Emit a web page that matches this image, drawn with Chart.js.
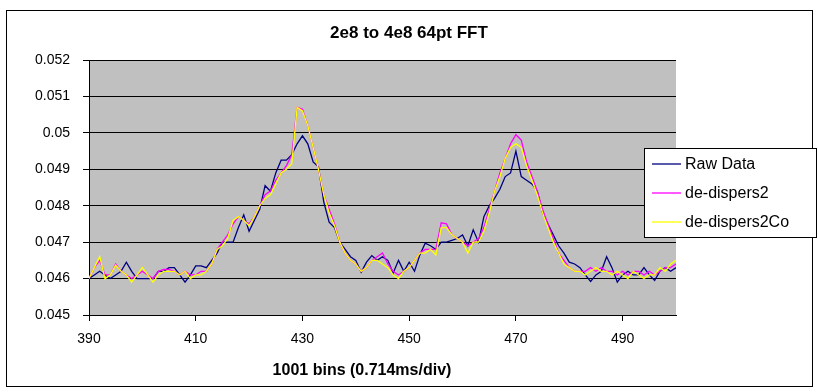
<!DOCTYPE html>
<html>
<head>
<meta charset="utf-8">
<script src="https://cdn.jsdelivr.net/npm/chart.js@4"></script>
<style>
  html, body { margin: 0; padding: 0; background: #fff; }
  #wrap { width: 818px; height: 392px; }
</style>
</head>
<body>
<div id="wrap"><canvas id="myChart" width="818" height="392"></canvas></div>
<script>
// bins 390..500 on the x axis
const bins = [];
for (let b = 390; b <= 500; b++) bins.push(b);

const xTicks = [390, 410, 430, 450, 470, 490];
const yTicks = [0.045, 0.046, 0.047, 0.048, 0.049, 0.05, 0.051, 0.052];

const chartTitle = "2e8 to 4e8 64pt FFT";
const xTitle = "1001 bins (0.714ms/div)";

const rawData = [
  0.0460, 0.0461, 0.0462, 0.0461, 0.0460, 0.0461, 0.0462, 0.04645, 0.0462, 0.0460,
  0.0460, 0.0460, 0.0460, 0.0462, 0.0462, 0.0463, 0.0463, 0.0461, 0.0459, 0.0461,
  0.04635, 0.04635, 0.0463, 0.0465, 0.0467, 0.0470, 0.0470, 0.0470, 0.0474, 0.04775,
  0.0473, 0.0476, 0.0479, 0.04855, 0.0484, 0.0489, 0.04925, 0.04925, 0.0494, 0.0497,
  0.04992, 0.0497, 0.0492, 0.04907, 0.0481, 0.04755, 0.0474, 0.0470, 0.0468, 0.0466,
  0.0465, 0.04617, 0.04645, 0.04663, 0.0465, 0.0466, 0.0465, 0.04615, 0.0465, 0.0462,
  0.04645, 0.0462, 0.04665, 0.04697, 0.0469, 0.0468, 0.0470, 0.0470, 0.04705, 0.0471,
  0.0472, 0.0469, 0.04734, 0.0470, 0.0477, 0.0480, 0.0482, 0.04845, 0.0488, 0.0489,
  0.0495, 0.0488, 0.0487, 0.0486, 0.0484, 0.0478, 0.0475, 0.0472, 0.0469, 0.0467,
  0.04645, 0.0464, 0.0463, 0.0461, 0.04592, 0.0461, 0.0462, 0.0466, 0.0463, 0.0459,
  0.0461, 0.0462, 0.0461, 0.0461, 0.0463, 0.0461, 0.04595, 0.0462, 0.0463, 0.0462,
  0.0463
];

const deDispers2 = [
  0.0460, 0.0463, 0.0465, 0.0461, 0.0461, 0.0464, 0.0462, 0.0461, 0.0460, 0.0461,
  0.0462, 0.0461, 0.0460, 0.0462, 0.04625, 0.04625, 0.0462, 0.0461, 0.0462, 0.0461,
  0.0461, 0.0462, 0.0462, 0.0464, 0.0468, 0.0470, 0.0472, 0.0475, 0.0477, 0.0476,
  0.0475, 0.0477, 0.0480, 0.0483, 0.0484, 0.0487, 0.0489, 0.0491, 0.0494, 0.0507,
  0.05065, 0.0502, 0.0496, 0.0490, 0.0483, 0.0479, 0.0475, 0.0470, 0.0467, 0.0465,
  0.0464, 0.0462, 0.0463, 0.0465, 0.0466, 0.0467, 0.0464, 0.0462, 0.0461, 0.0462,
  0.0463, 0.0465, 0.0467, 0.0468, 0.0468, 0.0468, 0.04753, 0.0475, 0.0472, 0.0471,
  0.0470, 0.0469, 0.0470, 0.0471, 0.0474, 0.0479, 0.0484, 0.0489, 0.0493, 0.0497,
  0.04995, 0.0498, 0.0492, 0.0488, 0.0484, 0.0479, 0.0475, 0.0471, 0.0467, 0.0465,
  0.0463, 0.0462, 0.0462, 0.0462, 0.0463, 0.0462, 0.0463, 0.0462, 0.0462, 0.0461,
  0.0462, 0.0461, 0.0462, 0.0462, 0.0461, 0.0462, 0.0461, 0.0462, 0.0463, 0.0463,
  0.0464
];

const deDispers2Co = [
  0.0460, 0.0463, 0.0466, 0.0460, 0.0461, 0.04637, 0.0462, 0.0461, 0.0459, 0.0461,
  0.0463, 0.0461, 0.0459, 0.0461, 0.0462, 0.0462, 0.0462, 0.0461, 0.0462, 0.0460,
  0.0461, 0.0461, 0.0462, 0.0464, 0.0468, 0.0469, 0.0471, 0.0476, 0.0477, 0.0476,
  0.04745, 0.0477, 0.0480, 0.0482, 0.0483, 0.0486, 0.0489, 0.0490, 0.04915, 0.0507,
  0.0506, 0.0502, 0.0496, 0.0490, 0.0483, 0.0478, 0.04745, 0.0470, 0.0467, 0.0465,
  0.0464, 0.0462, 0.0463, 0.0465, 0.0465, 0.0464, 0.0463, 0.0461, 0.0460, 0.0462,
  0.0463, 0.0465, 0.0467, 0.0467, 0.0468, 0.04665, 0.0474, 0.0474, 0.0472, 0.0471,
  0.0470, 0.0467, 0.0470, 0.0470, 0.0473, 0.0478, 0.0484, 0.0488, 0.0493, 0.0496,
  0.0497, 0.0496, 0.0491, 0.0487, 0.0483, 0.0478, 0.0474, 0.0470, 0.0467, 0.0464,
  0.0463, 0.0462, 0.0462, 0.0461, 0.0462, 0.0463, 0.0462, 0.0462, 0.0461, 0.0462,
  0.0461, 0.0460, 0.0462, 0.0461, 0.0460, 0.0461, 0.0461, 0.0463, 0.0462, 0.0464,
  0.0465
];

const seriesNames = ["Raw Data", "de-dispers2", "de-dispers2Co"];
const seriesColors = ["#000080", "#FF00FF", "#FFFF00"];

const FONT = "'Liberation Sans', Arial, sans-serif";

// gray plot area, outer frame, and the two titles (placed like Excel does)
const frame = {
  id: "frame",
  beforeDraw(chart) {
    const { ctx, chartArea: a } = chart;
    ctx.save();
    ctx.fillStyle = "#fff";
    ctx.fillRect(0, 0, chart.width, chart.height);
    ctx.fillStyle = "#C0C0C0";
    ctx.fillRect(a.left, a.top, a.right - a.left, a.bottom - a.top);
    ctx.restore();
  },
  afterDraw(chart) {
    const ctx = chart.ctx;
    ctx.save();
    ctx.strokeStyle = "#000";
    ctx.lineWidth = 1;
    ctx.strokeRect(6.5, 10.5, 806, 376);
    ctx.fillStyle = "#000";
    ctx.textAlign = "center";
    ctx.textBaseline = "middle";
    ctx.font = "bold 17px " + FONT;
    ctx.fillText(chartTitle, 409, 33);
    ctx.font = "bold 16px " + FONT;
    ctx.fillText(xTitle, 362, 371);
    ctx.restore();
  }
};

// Excel style legend box overlapping the plot
const boxLegend = {
  id: "boxLegend",
  afterDraw(chart) {
    const ctx = chart.ctx;
    const x = 644, y = 148, w = 172, h = 89;
    ctx.save();
    ctx.fillStyle = "#fff";
    ctx.fillRect(x, y, w, h);
    ctx.strokeStyle = "#000";
    ctx.lineWidth = 1;
    ctx.strokeRect(x + 0.5, y + 0.5, w, h);
    ctx.font = "16px " + FONT;
    ctx.textBaseline = "middle";
    chart.data.datasets.forEach((ds, i) => {
      const cy = y + 16 + i * 29;
      ctx.strokeStyle = ds.borderColor;
      ctx.lineWidth = 1.3;
      ctx.beginPath();
      ctx.moveTo(x + 8, cy);
      ctx.lineTo(x + 37, cy);
      ctx.stroke();
      ctx.fillStyle = "#000";
      ctx.fillText(ds.label, x + 41, cy + 1);
    });
    ctx.restore();
  }
};

new Chart("myChart", {
  type: "line",
  data: {
    labels: bins,
    datasets: [
      { label: seriesNames[0], data: rawData, borderColor: seriesColors[0], order: 2 },
      { label: seriesNames[1], data: deDispers2, borderColor: seriesColors[1], order: 1 },
      { label: seriesNames[2], data: deDispers2Co, borderColor: seriesColors[2], order: 0 }
    ]
  },
  options: {
    responsive: false,
    animation: false,
    events: [],
    elements: {
      line: { borderWidth: 1.3, tension: 0, fill: false },
      point: { radius: 0 }
    },
    layout: { padding: { left: 7, right: 142, top: 60, bottom: 10 } },
    plugins: {
      legend: { display: false },
      tooltip: { enabled: false },
      title: { display: false }
    },
    scales: {
      x: {
        type: "linear",
        min: 390,
        max: 500,
        afterBuildTicks: (s) => { s.ticks = xTicks.map(v => ({ value: v })); },
        afterFit: (s) => { s.height = 67; },
        border: { color: "#000", width: 1 },
        grid: { drawOnChartArea: false, drawTicks: true, tickLength: 6, color: "#000" },
        ticks: {
          color: "#000",
          padding: 10,
          maxRotation: 0,
          font: { family: FONT, size: 14 },
          callback: (v) => String(v)
        }
      },
      y: {
        min: 0.045,
        max: 0.052,
        afterBuildTicks: (s) => { s.ticks = yTicks.map(v => ({ value: v })); },
        afterFit: (s) => { s.width = 82; },
        border: { color: "#000", width: 1 },
        grid: { color: "#000", lineWidth: 1, drawTicks: true, tickLength: 6 },
        ticks: {
          color: "#000",
          padding: 13,
          font: { family: FONT, size: 14 },
          callback: (v) => String(Number(v.toFixed(3)))
        }
      }
    }
  },
  plugins: [frame, boxLegend]
});
</script>
</body>
</html>
